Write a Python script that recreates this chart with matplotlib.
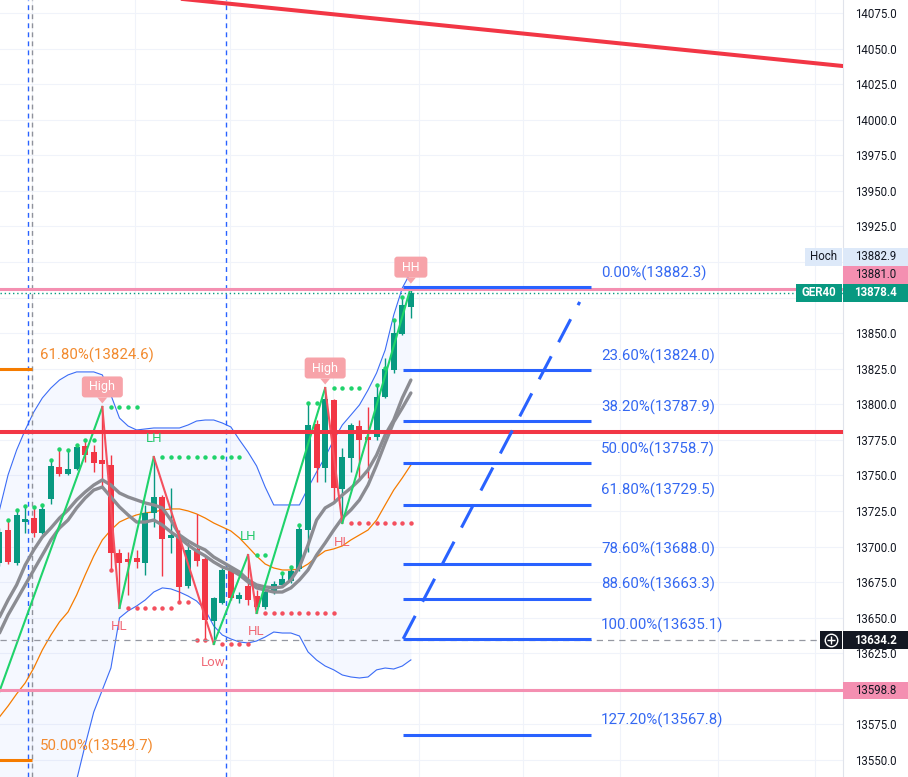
import matplotlib
matplotlib.use("Agg")
import matplotlib.pyplot as plt
import matplotlib.transforms as mtransforms
from matplotlib.patches import Rectangle, FancyBboxPatch, Polygon
import numpy as np

plt.rcParams['font.family'] = ['Roboto', 'DejaVu Sans']

# ---- candles (GER40, 1 bar per index) ----
opens = [13688.4, 13711.6, 13688.4, 13717.2, 13720.0, 13709.5, 13733.4, 13755.9, 13751.0, 13754.5,
         13770.7, 13766.4, 13760.8, 13757.3, 13695.4, 13691.2, 13691.9, 13688.4, 13723.6, 13734.8,
         13706.0, 13708.1, 13672.3, 13698.3, 13691.2, 13647.7, 13660.3, 13682.8, 13663.1, 13672.3,
         13665.2, 13657.5, 13668.0, 13673.0, 13675.8, 13684.2, 13711.6, 13786.1, 13755.2, 13803.0,
         13740.4, 13762.2, 13784.7, 13777.0, 13777.0, 13805.1, 13824.1, 13849.4, 13868.3]
highs = [13713.0, 13718.6, 13725.7, 13728.5, 13727.8, 13729.2, 13760.8, 13768.6, 13767.8, 13771.4,
         13774.9, 13771.4, 13798.1, 13764.3, 13698.3, 13696.2, 13697.6, 13729.2, 13762.9, 13736.2,
         13741.1, 13711.6, 13703.2, 13722.9, 13692.6, 13664.5, 13684.9, 13683.5, 13668.0, 13694.0,
         13669.4, 13669.4, 13675.8, 13681.4, 13685.6, 13715.1, 13800.9, 13788.9, 13811.4, 13803.7,
         13769.2, 13786.8, 13788.9, 13798.1, 13813.5, 13832.5, 13859.2, 13875.4, 13882.3]
lows = [13686.3, 13687.7, 13687.0, 13709.5, 13706.7, 13708.8, 13729.9, 13749.6, 13750.3, 13753.8,
        13759.4, 13752.4, 13741.1, 13683.5, 13656.8, 13665.9, 13684.9, 13680.0, 13713.7, 13679.3,
        13695.4, 13661.0, 13670.9, 13686.3, 13634.3, 13631.5, 13659.6, 13662.4, 13660.3, 13658.9,
        13653.3, 13656.1, 13666.6, 13671.6, 13674.4, 13682.8, 13696.2, 13745.3, 13745.3, 13730.6,
        13716.5, 13752.4, 13746.8, 13748.2, 13774.9, 13804.4, 13822.0, 13848.7, 13860.6]
closes = [13710.2, 13689.1, 13722.2, 13719.4, 13709.5, 13726.4, 13756.6, 13751.0, 13754.5, 13770.0,
          13764.3, 13758.7, 13758.0, 13695.4, 13688.4, 13689.1, 13689.1, 13723.6, 13734.8, 13705.3,
          13708.1, 13671.6, 13697.6, 13689.8, 13648.4, 13663.8, 13683.5, 13663.8, 13665.9, 13662.4,
          13657.5, 13668.0, 13673.7, 13677.2, 13682.8, 13712.3, 13785.4, 13755.2, 13803.7, 13741.1,
          13762.9, 13785.4, 13774.9, 13774.9, 13805.1, 13824.8, 13850.1, 13869.7, 13878.4]

# ---- indicators ----
band_upper = [13725.7, 13750.3, 13767.8, 13781.9, 13794.5, 13804.4, 13811.4, 13817.0, 13820.6, 13822.7,
              13822.7, 13822.7, 13820.6, 13806.5, 13790.3, 13784.7, 13781.9, 13782.6, 13783.3, 13783.3,
              13783.3, 13783.3, 13785.4, 13788.2, 13788.9, 13788.9, 13786.8, 13784.0, 13774.9, 13766.4,
              13756.6, 13741.8, 13729.2, 13729.2, 13729.2, 13729.2, 13741.1, 13752.4, 13762.9, 13774.9,
              13785.4, 13792.4, 13799.5, 13810.0, 13822.0, 13838.1, 13862.7, 13881.7, 13892.9]
band_lower = [13451.6, 13458.6, 13465.7, 13472.7, 13479.7, 13490.3, 13500.8, 13511.3, 13523.3, 13535.9,
              13560.5, 13583.7, 13599.2, 13614.6, 13649.8, 13654.7, 13658.2, 13662.4, 13668.0, 13670.9,
              13670.2, 13668.0, 13665.2, 13661.7, 13655.4, 13644.2, 13637.8, 13635.0, 13632.9, 13632.2,
              13633.6, 13636.4, 13639.9, 13639.2, 13639.2, 13637.1, 13625.9, 13620.2, 13616.0, 13613.3,
              13609.7, 13608.3, 13607.6, 13608.3, 13613.3, 13614.6, 13613.9, 13616.0, 13620.3]
ma_orange = [13580.2, 13587.9, 13596.4, 13604.1, 13614.6, 13627.3, 13637.8, 13647.0, 13654.0, 13665.9,
             13680.0, 13693.3, 13704.6, 13711.6, 13717.2, 13720.0, 13722.2, 13723.6, 13724.3, 13725.7,
             13726.4, 13726.4, 13725.0, 13722.9, 13720.0, 13716.5, 13713.7, 13710.9, 13706.0, 13699.7,
             13693.3, 13687.7, 13684.9, 13683.5, 13683.5, 13684.2, 13687.7, 13692.6, 13696.9, 13698.3,
             13700.4, 13704.6, 13708.1, 13711.6, 13718.6, 13729.2, 13739.7, 13748.2, 13757.3]
ma_gray_fast = [13650.5, 13662.4, 13673.0, 13687.0, 13697.6, 13706.7, 13713.0, 13720.0, 13725.7, 13732.7,
                13738.3, 13743.2, 13746.8, 13743.2, 13737.6, 13734.8, 13732.7, 13730.6, 13729.2, 13727.1,
                13718.6, 13708.1, 13703.9, 13700.4, 13697.6, 13692.6, 13689.1, 13685.6, 13682.1, 13676.5,
                13673.0, 13671.6, 13670.9, 13671.6, 13676.5, 13685.6, 13701.1, 13718.6, 13727.1, 13730.6,
                13736.2, 13741.1, 13746.8, 13753.8, 13764.3, 13778.4, 13788.9, 13804.4, 13817.0]
ma_gray_slow = [13639.2, 13651.9, 13662.4, 13673.0, 13683.5, 13694.0, 13704.6, 13713.0, 13718.6, 13727.1,
                13734.1, 13739.7, 13741.8, 13734.8, 13727.8, 13722.2, 13717.2, 13717.2, 13718.6, 13715.1,
                13710.2, 13706.0, 13701.1, 13696.9, 13693.4, 13689.1, 13685.6, 13683.5, 13680.0, 13675.1,
                13670.9, 13669.4, 13668.0, 13668.0, 13670.9, 13676.5, 13683.5, 13694.0, 13702.5, 13711.6,
                13720.0, 13725.7, 13732.7, 13743.2, 13757.3, 13772.8, 13787.5, 13797.4, 13807.9]

# ---- market structure (zigzag pivots) ----
zz_start_idx, zz_start_px = -1, 13581.6
pivot_idx = [12, 14, 18, 25, 29, 30, 38, 40, 48]
pivot_px = [13798.1, 13656.8, 13762.9, 13631.5, 13694.0, 13653.3, 13811.4, 13716.5, 13882.3]
pivot_tag = ['High', 'HL', 'LH', 'Low', 'LH', 'HL', 'High', 'HL', 'HH']
pivot_ext_end = [16, 20, 28, 29, 31, 39, 42, 48, 48]
top_dot_idx = [1, 2, 3, 4, 5, 6, 7, 8, 9, 10, 11, 33, 34, 35, 36, 37, 44, 45, 46, 47]
top_dot_px = [13718.6, 13725.7, 13728.5, 13727.8, 13729.2, 13760.8, 13768.6, 13767.8, 13771.4, 13774.9,
              13774.9, 13681.4, 13685.6, 13715.1, 13800.9, 13800.9, 13813.5, 13825.5, 13859.2, 13875.4]
bot_dot_idx = [13, 21, 22, 23, 24]
bot_dot_px = [13683.5, 13661.0, 13661.0, 13634.3, 13634.3]

# ---- drawings ----
fib_pct = ['0.00%', '23.60%', '38.20%', '50.00%', '61.80%', '78.60%', '88.60%', '100.00%', '127.20%']
fib_val = [13882.3, 13824.0, 13787.9, 13758.7, 13729.5, 13688.0, 13663.3, 13635.1, 13567.8]
fib_span = (47.1, 69.0)
left_fib_pct = ['61.80%', '50.00%']
left_fib_val = [13824.6, 13549.7]
left_fib_span = (-1.0, 3.8)
diag_idx = [47.1, 67.7]
diag_px = [13635.1, 13871.9]
trend_idx = [21.4, 98.4]
trend_px = [14084.8, 14037.7]
red_level = 13780.5
pink_levels = [13881.0, 13598.8]
vlines_blue = [3.3, 26.4]
vline_gray = 3.8
grid_x = [3.8, 15.8, 26.9, 38.9, 49.0, 61.1, 72.4, 83.8, 95.1]

# ---- price scale ----
y_ticks = [13550, 13575, 13625, 13650, 13675, 13700, 13725, 13750, 13775, 13800, 13825, 13850,
           13925, 13950, 13975, 14000, 14025, 14075, 14050]
grid_y = np.arange(13550, 14076, 25)
last_close = 13878.4
day_high = 13882.9
crosshair_px = 13634.2

GREEN = '#089981'
RED = '#f23645'
BLUE = '#2962ff'
PINK = '#f48fb1'
ORANGE = '#f57c00'
TEXT = '#131722'

fig = plt.figure(figsize=(9.08, 7.77), dpi=100)
ax_right = 843 / 908
ax = fig.add_axes([0, 0, ax_right, 1])
ax.set_xlim(0.06, 98.42)
ax.set_ylim(13538.0, 14084.1)
ax.set_facecolor('white')

for sp in ['left', 'top', 'bottom']:
    ax.spines[sp].set_visible(False)
ax.spines['right'].set_color('#e0e3eb')
ax.set_xticks([])
ax.yaxis.tick_right()
ax.set_yticks(y_ticks)
ax.set_yticklabels([f'{v:.1f}' for v in y_ticks])
ax.tick_params(axis='y', length=0, pad=23.4, labelsize=8.3, labelcolor=TEXT)
for lab in ax.get_yticklabels():
    lab.set_horizontalalignment('center')

# grid
for gy in grid_y:
    ax.axhline(gy, color='#f0f3fa', lw=0.8, zorder=0)
for gx in grid_x:
    ax.axvline(gx, color='#f0f3fa', lw=0.8, zorder=0)

x = np.arange(len(closes))

# bollinger band
ax.fill_between(x, band_upper, band_lower, color=BLUE, alpha=0.045, lw=0, zorder=0.5)
ax.plot(x, band_upper, color='#3b6cf6', lw=0.8, zorder=1)
ax.plot(x, band_lower, color='#3b6cf6', lw=0.8, zorder=1)
ax.plot(x, ma_orange, color=ORANGE, lw=0.9, zorder=1.5)

# session / marker lines
for vx in vlines_blue:
    ax.axvline(vx, color=BLUE, lw=1.0, dashes=(3.5, 3), zorder=1)
ax.axvline(vline_gray, color='#8f929b', lw=1.0, dashes=(3.5, 3), zorder=1)

# candles
o = np.array(opens)
c = np.array(closes)
col = np.where(c >= o, GREEN, RED)
ax.vlines(x, lows, highs, colors=col, lw=1.0, zorder=3)
ax.bar(x, np.maximum(np.abs(c - o), 1.5), bottom=np.minimum(o, c), width=0.7, color=col, zorder=3.1)

# moving averages
ax.plot(x, ma_gray_fast, color='#8b8c92', lw=2.4, zorder=4, solid_capstyle='round')
ax.plot(x, ma_gray_slow, color='#8b8c92', lw=2.4, zorder=4, solid_capstyle='round')

# horizontal levels
ax.axhline(red_level, color=RED, lw=2.9, zorder=6)
ax.plot(trend_idx, trend_px, color=RED, lw=2.9, zorder=6)
for pl in pink_levels:
    ax.axhline(pl, color=PINK, lw=2.2, zorder=5.5)
ax.axhline(last_close, color=GREEN, lw=1.0, dashes=(1, 2), zorder=5.6)
ax.axhline(crosshair_px, color='#9598a1', lw=0.9, dashes=(5, 4), zorder=5.6)

# zigzag
zz_x = [zz_start_idx] + pivot_idx
zz_y = [zz_start_px] + pivot_px
for k in range(len(zz_x) - 1):
    clr = '#1fd36b' if zz_y[k + 1] > zz_y[k] else '#f4505e'
    ax.plot(zz_x[k:k + 2], zz_y[k:k + 2], color=clr, lw=1.5, zorder=5)

# pivot extension dots + candle dots
for idx, p, tag, end in zip(pivot_idx, pivot_px, pivot_tag, pivot_ext_end):
    if end <= idx:
        continue
    clr = '#1fd36b' if tag in ('High', 'LH', 'HH') else '#f4505e'
    xs = np.arange(idx + 1, end + 1)
    ax.plot(xs, [p] * len(xs), ls='none', marker='o', ms=2.2, color=clr, zorder=5)
ax.plot(top_dot_idx, top_dot_px, ls='none', marker='o', ms=2.2, color='#1fd36b', zorder=5)
ax.plot(bot_dot_idx, bot_dot_px, ls='none', marker='o', ms=2.2, color='#f4505e', zorder=5)

# pivot labels
for idx, p, tag in zip(pivot_idx, pivot_px, pivot_tag):
    tr = fig.dpi_scale_trans + mtransforms.ScaledTranslation(idx, p, ax.transData)
    if tag in ('High', 'HH'):
        w = 0.41 if tag == 'High' else 0.33
        hgt, dy = 0.21, 0.20
        ax.add_patch(FancyBboxPatch((-w / 2, dy - hgt / 2), w, hgt,
                                    boxstyle='round,pad=0,rounding_size=0.03',
                                    fc='#f7a3a9', ec='none', transform=tr, zorder=8))
        ax.add_patch(Polygon([(-0.05, dy - hgt / 2), (0.05, dy - hgt / 2), (0, dy - hgt / 2 - 0.06)],
                             closed=True, fc='#f7a3a9', ec='none', transform=tr, zorder=8))
        ax.text(0, dy, tag, transform=tr, ha='center', va='center', color='white',
                fontsize=9, zorder=9)
    elif tag == 'LH':
        ax.text(0, 0.19, tag, transform=tr, ha='center', va='center', color='#26c96c',
                fontsize=9.5, zorder=9)
    else:
        ax.text(0, -0.19, tag, transform=tr, ha='center', va='center', color='#f06a77',
                fontsize=9.5, zorder=9)

# fibonacci (right)
lab_off = mtransforms.offset_copy(ax.transData, fig=fig, x=0, y=0.14, units='inches')
ax.hlines(fib_val, fib_span[0], fib_span[1], color=BLUE, lw=2.2, zorder=6)
for pct, v in zip(fib_pct, fib_val):
    ax.text(fib_span[1] + 1.2, v, f'{pct}({v:.1f})', transform=lab_off, ha='left', va='center',
            color='#3468f2', fontsize=10.8, zorder=9)
ax.plot(diag_idx, diag_px, color=BLUE, lw=2.2, dashes=(8.5, 5.2), zorder=6)

# fibonacci (left, orange)
ax.hlines(left_fib_val, left_fib_span[0], left_fib_span[1], color=ORANGE, lw=2.2, zorder=6)
for pct, v in zip(left_fib_pct, left_fib_val):
    ax.text(left_fib_span[1] + 0.95, v, f'{pct}({v:.1f})', transform=lab_off, ha='left', va='center',
            color='#f28a2e', fontsize=10.8, zorder=9)

# price scale labels
trans = mtransforms.blended_transform_factory(fig.transFigure, ax.transData)
box_h = 12.6
scale_w = 1 - ax_right


def scale_box(center, text, fc, tc, bold=False, x0=ax_right, w=scale_w):
    ax.add_patch(Rectangle((x0, center - box_h / 2), w, box_h, transform=trans, fc=fc, ec='none',
                           clip_on=False, zorder=10))
    ax.text(x0 + w / 2, center, text, transform=trans, ha='center', va='center', color=tc,
            fontsize=8.3, fontweight='bold' if bold else 'normal', clip_on=False, zorder=11)


scale_box(last_close, f'{last_close:.1f}', GREEN, 'white', bold=True)
scale_box(last_close, 'GER40', GREEN, 'white', bold=True, x0=796 / 908, w=46 / 908)
scale_box(last_close + box_h, f'{pink_levels[0]:.1f}', PINK, TEXT)
scale_box(last_close + 2 * box_h, f'{day_high:.1f}', '#dde9f9', TEXT)
scale_box(last_close + 2 * box_h, 'Hoch', '#dde9f9', TEXT, x0=805 / 908, w=37 / 908)
scale_box(pink_levels[1], f'{pink_levels[1]:.1f}', PINK, TEXT)
scale_box(crosshair_px, f'{crosshair_px:.1f}', TEXT, 'white', bold=True)
ax.add_patch(Rectangle((820 / 908, crosshair_px - box_h / 2), 22 / 908, box_h, transform=trans,
                       fc=TEXT, ec='none', clip_on=False, zorder=10))
ax.plot([831 / 908], [crosshair_px], transform=trans, marker='o', ms=9, mfc='none', mec='white',
        mew=1.0, clip_on=False, zorder=12)
ax.plot([831 / 908], [crosshair_px], transform=trans, marker='+', ms=5.5, color='white',
        mew=1.0, clip_on=False, zorder=12)

fig.savefig('out.png', dpi=100)
